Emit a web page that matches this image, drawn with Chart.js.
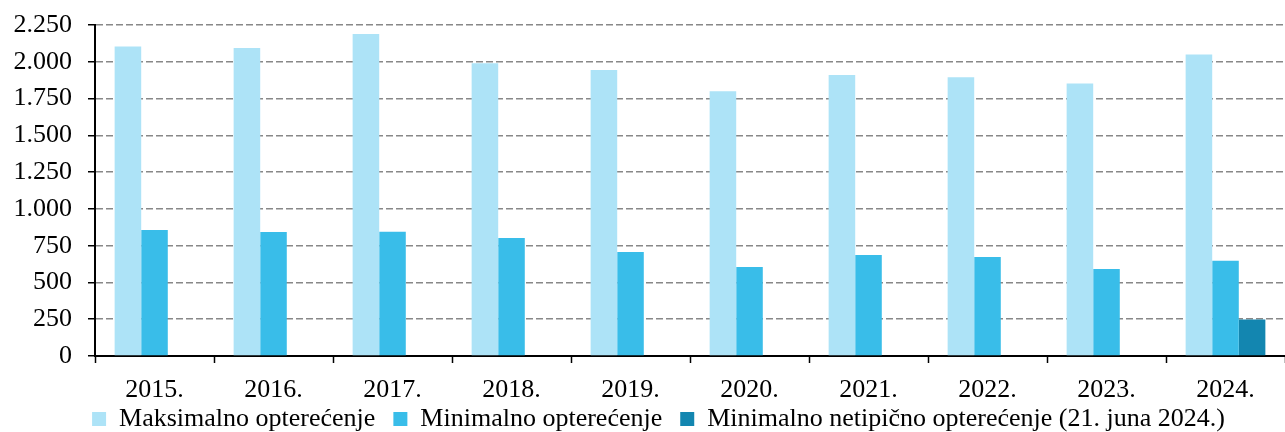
<!DOCTYPE html>
<html>
<head>
<meta charset="utf-8">
<script src="https://cdn.jsdelivr.net/npm/chart.js@4"></script>
<style>
  html, body { margin: 0; padding: 0; background: #fff; }
  #wrap { width: 1285px; height: 432px; }
</style>
</head>
<body>
<div id="wrap"><canvas id="myChart"></canvas></div>
<script>
// Data
const years = ['2015.', '2016.', '2017.', '2018.', '2019.', '2020.', '2021.', '2022.', '2023.', '2024.'];
const maxLoad = [2105, 2095, 2190, 1990, 1945, 1800, 1910, 1895, 1853, 2050];
const minLoad = [857, 843, 845, 802, 707, 605, 687, 673, 592, 648];
const minAtypical = [null, null, null, null, null, null, null, null, null, 249];
const seriesNames = ['Maksimalno opterećenje', 'Minimalno opterećenje', 'Minimalno netipično opterećenje (21. juna 2024.)'];

const serif = "'Liberation Serif', 'Times New Roman', serif";
const font = { family: serif, size: 26 };
const legendPad = 18;

function fmt(v) {
    return String(v).replace(/\B(?=(\d{3})+(?!\d))/g, '.');
}

// legend sits tight under the axis labels, a bit right of centre
const legendTweak = {
    id: 'legendTweak',
    afterInit(chart) {
        const lg = chart.legend;
        const fit = lg.fit.bind(lg);
        lg.fit = function () { fit(); this.height = 29; };
    },
    afterLayout(chart) {
        const lg = chart.legend;
        lg.top = 420 - legendPad - 14;
        lg.bottom = lg.top + 60;
        lg.left += 16;
        lg.right += 16;
    }
};

const ctx = document.getElementById('myChart').getContext('2d');
const myChart = new Chart(ctx, {
    type: 'bar',
    data: {
        labels: years,
        datasets: [
            { label: seriesNames[0], data: maxLoad, backgroundColor: '#ADE3F7' },
            { label: seriesNames[1], data: minLoad, backgroundColor: '#39BDE9' },
            { label: seriesNames[2], data: minAtypical, backgroundColor: '#1386B0' }
        ]
    },
    plugins: [legendTweak],
    options: {
        responsive: true,
        maintainAspectRatio: false,
        animation: false,
        layout: { padding: { top: 7, right: 0, left: 0, bottom: 0 } },
        datasets: {
            bar: { categoryPercentage: 0.67, barPercentage: 1.0 }
        },
        plugins: {
            tooltip: { enabled: false },
            legend: {
                position: 'bottom',
                labels: {
                    font: font,
                    color: '#000',
                    boxWidth: 14,
                    boxHeight: 14,
                    padding: legendPad
                }
            }
        },
        scales: {
            x: {
                afterFit: s => { s.height = 47; },
                grid: {
                    offset: true,
                    drawOnChartArea: false,
                    tickLength: 7,
                    tickColor: '#000',
                    tickWidth: 1.5
                },
                border: { color: '#000', width: 2 },
                ticks: { font: font, color: '#000', padding: 12, maxRotation: 0 }
            },
            y: {
                min: 0,
                max: 2250,
                afterFit: s => { s.width = 95; },
                ticks: {
                    stepSize: 250,
                    font: { family: serif, size: 26, lineHeight: 0.7 },
                    color: '#000',
                    padding: 16,
                    callback: v => fmt(v)
                },
                grid: {
                    color: c => c.tick.value === 0 ? 'rgba(0,0,0,0)' : '#888',
                    lineWidth: 1.5,
                    tickLength: 7,
                    tickColor: '#000',
                    tickWidth: 1.5,
                    tickBorderDash: []
                },
                border: { color: '#000', width: 2, dash: [7, 3] }
            }
        }
    }
});
</script>
</body>
</html>
